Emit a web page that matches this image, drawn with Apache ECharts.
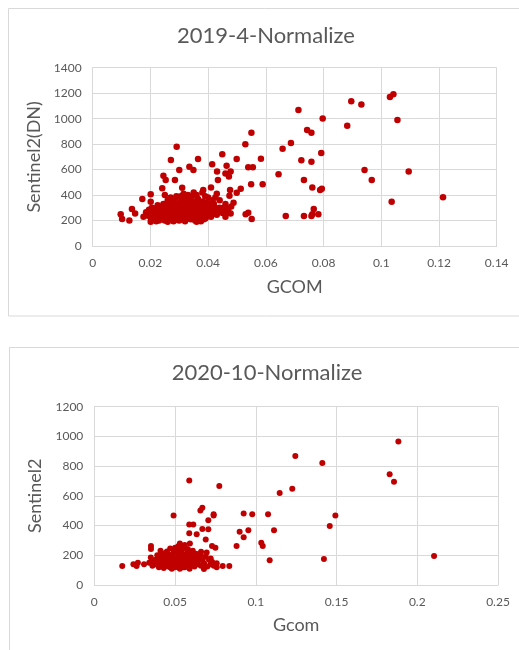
<!DOCTYPE html>
<html>
<head>
<meta charset="utf-8">
<script src="https://cdn.jsdelivr.net/npm/echarts@6/dist/echarts.min.js"></script>
<style>html,body{margin:0;padding:0;background:#fff;}#c{width:519px;height:650px;}</style>
</head>
<body>
<div id="c"></div>
<script>
// ---------- Chart 1: 2019-4-Normalize ----------
const title1 = "2019-4-Normalize";
const xName1 = "GCOM";
const yName1 = "Sentinel2(DN)";
const xTicks1 = [0, 0.02, 0.04, 0.06, 0.08, 0.1, 0.12, 0.14];
const yTicks1 = [0, 200, 400, 600, 800, 1000, 1200, 1400];
const points1 = [
  [0.0097,250],[0.0102,212],[0.0127,201],[0.0136,290],[0.0147,256],[0.0172,369],[0.0176,230],
  [0.0201,406],[0.0201,348],[0.0201,191],[0.0245,552],[0.0241,453],[0.0253,518],[0.0271,675],
  [0.0291,780],[0.0285,518],[0.0300,597],[0.0335,623],[0.0349,597],[0.0365,683],[0.0310,458],
  [0.0383,440],[0.0410,460],[0.0414,641],[0.0431,584],[0.0434,518],[0.0449,720],[0.0464,631],
  [0.0460,570],[0.0472,545],[0.0478,584],[0.0499,683],[0.0476,440],[0.0474,395],[0.0499,418],
  [0.0513,450],[0.0488,340],[0.0460,230],[0.0478,256],[0.0529,798],[0.0550,890],[0.0539,618],
  [0.0555,618],[0.0549,484],[0.0530,249],[0.0539,262],[0.0551,212],[0.0583,686],[0.0589,484],
  [0.0644,563],[0.0658,764],[0.0669,236],[0.0687,809],[0.0713,1068],[0.0723,673],[0.0732,518],
  [0.0732,236],[0.0743,911],[0.0758,890],[0.0758,662],[0.0761,460],[0.0766,290],[0.0758,236],
  [0.0761,249],[0.0782,249],[0.0788,440],[0.0794,450],[0.0792,730],[0.0797,1002],[0.0882,945],
  [0.0896,1136],[0.0931,1112],[0.0942,597],[0.0967,518],[0.1030,1170],[0.1042,1191],[0.1056,989],
  [0.1036,348],[0.1095,584],[0.1214,382],
  [0.0185,265],[0.019,240],[0.0195,285],[0.020,225],[0.0205,300],[0.021,250],[0.021,270],[0.0215,215],
  [0.022,290],[0.022,235],[0.0225,260],[0.023,200],[0.023,310],[0.0235,245],[0.024,275],[0.024,220],
  [0.0245,330],[0.025,255],[0.025,200],[0.0255,290],[0.026,235],[0.026,360],[0.0265,270],[0.027,210],
  [0.027,310],[0.0275,250],[0.028,195],[0.028,340],[0.0285,230],[0.0285,280],[0.029,260],[0.029,390],
  [0.0295,205],[0.030,300],[0.030,240],[0.0305,350],[0.031,220],[0.031,275],[0.0315,410],[0.032,255],
  [0.032,195],[0.0325,320],[0.033,235],[0.033,290],[0.0335,380],[0.034,210],[0.034,265],[0.0345,340],
  [0.035,245],[0.035,300],[0.0355,200],[0.036,280],[0.036,400],[0.0365,230],[0.037,320],[0.037,260],
  [0.0375,195],[0.038,290],[0.038,350],[0.0385,240],[0.039,215],[0.039,310],[0.0395,270],[0.040,380],
  [0.040,250],[0.041,300],[0.041,230],[0.042,330],[0.042,270],[0.043,245],[0.043,410],[0.044,300],
  [0.044,360],[0.045,260],[0.046,330],[0.047,290],[0.048,310],
  [0.0225,280],[0.0235,265],[0.0245,240],[0.0255,215],[0.0265,300],[0.0275,225],[0.0285,310],[0.0295,270],
  [0.0305,255],[0.0315,235],[0.0325,270],[0.0335,250],[0.0345,225],[0.0355,265],[0.0365,295],[0.0375,240],
  [0.0385,275],[0.0395,230],[0.027,380],[0.025,400],[0.033,400],[0.035,420],[0.038,420],[0.031,370],
  [0.029,330],[0.034,360],[0.036,350],[0.032,340],[0.030,200],[0.026,190],[0.036,190],[0.022,195],
  [0.0405,330],[0.0415,360],[0.0425,380],[0.0445,280],[0.0455,300],[0.0465,270],[0.024,300],[0.028,260],
  [0.032,300],[0.037,215],[0.0205,220],[0.0195,260],[0.0225,320],[0.039,390],
  [0.0215,240],[0.0235,225],[0.0245,285],[0.0255,245],[0.0265,215],[0.0275,290],[0.0285,250],[0.0295,230],
  [0.0305,215],[0.0315,290],[0.0325,225],[0.0335,215],[0.0345,290],[0.0355,230],[0.0365,260],[0.0375,290],
  [0.0385,210],[0.0395,250],[0.0265,330],[0.0275,350],[0.0295,310],[0.0305,320],[0.0315,330],[0.0335,320],
  [0.0355,330],[0.0375,340],[0.0395,340],[0.0255,320],[0.0235,300],[0.0305,390],[0.0325,370],[0.0345,390],
  [0.0365,370],[0.0285,370],[0.0265,245],[0.0245,260],[0.0275,270],[0.0305,280],[0.0335,280],[0.0355,295],
  [0.0405,280],[0.0415,250],[0.0425,300],[0.0435,270],[0.0395,300],[0.0385,320],[0.0225,215],[0.0215,295]
];

// ---------- Chart 2: 2020-10-Normalize ----------
const title2 = "2020-10-Normalize";
const xName2 = "Gcom";
const yName2 = "Sentinel2";
const xTicks2 = [0, 0.05, 0.1, 0.15, 0.2, 0.25];
const yTicks2 = [0, 200, 400, 600, 800, 1000, 1200];
const points2 = [
  [0.0173,128],[0.0242,139],[0.0262,128],[0.0270,150],[0.0308,139],[0.0351,262],[0.0351,242],
  [0.0491,467],[0.0588,704],[0.0774,666],[0.0588,408],[0.0613,408],[0.0588,348],[0.0634,341],
  [0.0657,502],[0.0669,520],[0.0739,476],[0.0739,467],[0.0706,435],[0.0669,377],[0.0706,375],
  [0.0690,307],[0.0592,280],[0.0729,262],[0.0750,251],[0.0661,224],[0.0696,218],[0.0721,179],
  [0.0758,146],[0.0758,119],[0.0795,128],[0.0836,128],[0.0679,108],[0.0881,262],[0.0900,359],
  [0.0925,482],[0.0925,321],[0.0954,368],[0.0978,476],[0.1034,285],[0.1043,262],[0.1076,476],
  [0.1086,166],[0.1113,368],[0.1148,619],[0.1226,648],[0.1245,868],[0.1412,821],[0.1422,175],
  [0.1458,397],[0.1493,467],[0.1829,745],[0.1856,695],[0.1883,965],[0.2104,195],
  [0.034,150],[0.035,185],[0.036,130],[0.037,160],[0.038,140],[0.039,200],[0.040,120],[0.040,175],
  [0.041,230],[0.041,150],[0.042,135],[0.042,205],[0.043,165],[0.043,115],[0.044,190],[0.044,140],
  [0.045,225],[0.045,155],[0.046,125],[0.046,180],[0.047,245],[0.047,145],[0.048,110],[0.048,200],
  [0.049,165],[0.049,135],[0.050,220],[0.050,120],[0.051,180],[0.051,150],[0.052,260],[0.052,130],
  [0.053,195],[0.053,110],[0.054,165],[0.054,235],[0.055,140],[0.055,205],[0.056,120],[0.056,175],
  [0.057,150],[0.057,245],[0.058,130],[0.058,190],[0.059,160],[0.059,110],[0.060,215],[0.060,140],
  [0.061,175],[0.062,125],[0.062,195],[0.063,155],[0.064,140],[0.065,180],[0.066,130],[0.067,165],
  [0.068,145],[0.069,190],[0.070,125],[0.071,170],[0.072,140],[0.073,155],[0.074,130],
  [0.046,160],[0.048,175],[0.050,150],[0.052,165],[0.054,185],[0.056,150],[0.058,165],[0.044,165],
  [0.047,195],[0.049,210],[0.051,235],[0.053,280],[0.055,260],[0.057,210],[0.043,200],[0.045,130],
  [0.052,200],[0.050,180],[0.048,140],[0.054,125],[0.039,160],[0.041,190],[0.063,210],[0.061,230],
  [0.058,240],[0.056,270],[0.047,120],[0.053,145],[0.060,185],[0.064,170],[0.066,200],
  [0.045,175],[0.046,140],[0.047,170],[0.048,155],[0.049,185],[0.050,135],[0.051,200],[0.051,125],
  [0.052,145],[0.053,175],[0.054,145],[0.055,170],[0.055,120],[0.056,195],[0.057,135],[0.057,180],
  [0.058,150],[0.059,200],[0.059,140],[0.060,165],[0.061,145],[0.062,160],[0.049,235],[0.050,250],
  [0.052,225],[0.054,210],[0.044,215],[0.046,205],[0.042,170],[0.040,145],[0.038,170],[0.036,150]
];

const FONT = "Lato";
const TXT = "#595959";
const GRID_C = "#d9d9d9";
const RED = "#c00000";

function fmt(v){ return String(+v.toFixed(4)); }

function xAxis(gi, ticks, name, gap){
  return {
    gridIndex: gi, type: 'value',
    min: ticks[0], max: ticks[ticks.length-1], interval: ticks[1]-ticks[0],
    name: name, nameLocation: 'middle', nameGap: gap,
    nameTextStyle: {fontFamily: FONT, fontSize: 18, color: TXT},
    axisLine: {show: true, lineStyle: {color: GRID_C, width: 1}},
    axisTick: {show: false},
    axisLabel: {fontFamily: FONT, fontSize: 12, color: TXT, margin: 11, formatter: fmt},
    splitLine: {show: true, lineStyle: {color: GRID_C, width: 1}}
  };
}
function yAxis(gi, ticks, name, gap){
  return {
    gridIndex: gi, type: 'value',
    min: ticks[0], max: ticks[ticks.length-1], interval: ticks[1]-ticks[0],
    name: name, nameLocation: 'middle', nameGap: gap,
    nameTextStyle: {fontFamily: FONT, fontSize: 18, color: TXT},
    axisLine: {show: true, lineStyle: {color: GRID_C, width: 1}},
    axisTick: {show: false},
    axisLabel: {fontFamily: FONT, fontSize: 12, color: TXT, margin: 11, formatter: fmt},
    splitLine: {show: true, lineStyle: {color: GRID_C, width: 1}}
  };
}

const chart = echarts.init(document.getElementById('c'), null, {renderer: 'canvas'});
chart.setOption({
  animation: false,
  backgroundColor: '#fff',
  grid: [
    {left: 92.7, top: 67.7, width: 404, height: 178.3},
    {left: 94.3, top: 406.7, width: 403.7, height: 178.3}
  ],
  xAxis: [xAxis(0, xTicks1, xName1, 32), xAxis(1, xTicks2, xName2, 31)],
  yAxis: [yAxis(0, yTicks1, yName1, 45), yAxis(1, yTicks2, yName2, 45)],
  graphic: [
    {type: 'rect', shape: {x: 8.5, y: 8.5, width: 530, height: 307.5}, style: {fill: 'none', stroke: GRID_C, lineWidth: 1}, silent: true},
    {type: 'rect', shape: {x: 9.5, y: 347.5, width: 530, height: 320}, style: {fill: 'none', stroke: GRID_C, lineWidth: 1}, silent: true},
    {type: 'text', x: 266, y: 36, style: {text: title1, fontFamily: FONT, fontSize: 22, fill: TXT, textAlign: 'center', textVerticalAlign: 'middle'}},
    {type: 'text', x: 267, y: 373, style: {text: title2, fontFamily: FONT, fontSize: 22, fill: TXT, textAlign: 'center', textVerticalAlign: 'middle'}}
  ],
  series: [
    {type: 'scatter', xAxisIndex: 0, yAxisIndex: 0, data: points1, symbolSize: 6.5, itemStyle: {color: RED, opacity: 1}},
    {type: 'scatter', xAxisIndex: 1, yAxisIndex: 1, data: points2, symbolSize: 6, itemStyle: {color: RED, opacity: 1}}
  ]
});
</script>
</body>
</html>
